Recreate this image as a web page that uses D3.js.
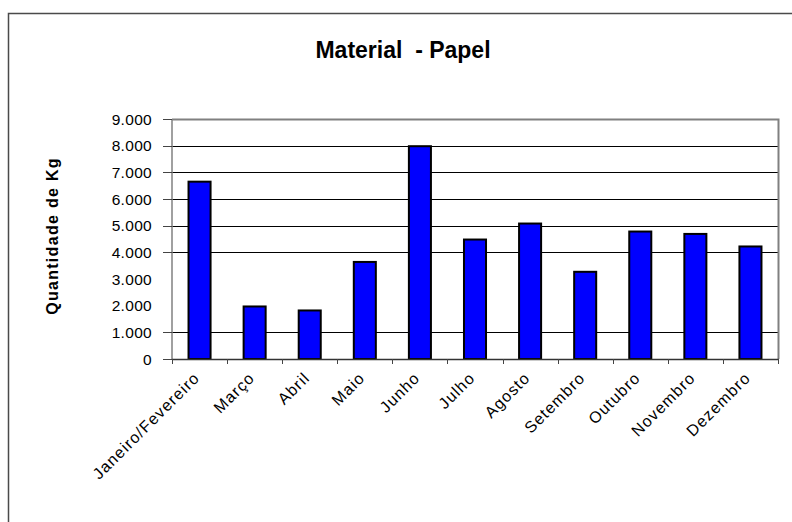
<!DOCTYPE html>
<html>
<head>
<meta charset="utf-8">
<script src="https://cdn.jsdelivr.net/npm/d3@7"></script>
<style>
  html, body { margin: 0; padding: 0; background: #fff; }
  svg { display: block; }
  text { font-family: "Liberation Sans", Arial, sans-serif; fill: #000; white-space: pre; }
</style>
</head>
<body>
<svg id="chart" width="792" height="522"></svg>
<script>
// Paper collected per month (kg)
const months = ["Janeiro/Fevereiro", "Março", "Abril", "Maio", "Junho", "Julho",
                "Agosto", "Setembro", "Outubro", "Novembro", "Dezembro"];
const paperKg = [6650, 1970, 1820, 3640, 7980, 4480, 5080, 3270, 4780, 4690, 4220];
const yTicks = [0, 1000, 2000, 3000, 4000, 5000, 6000, 7000, 8000, 9000];
const gridValues = [1000, 4000, 5000, 6000, 7000, 8000];
const tickMarkValues = [0, 1000, 4000, 5000, 6000, 7000, 8000, 9000];
const chartTitle = "Material  - Papel";
const yTitle = "Quantidade de Kg";

const svg = d3.select("#chart");
const W = 792, H = 522;
const plot = { left: 172, right: 778, top: 119, bottom: 359 };

// outer chart frame
svg.append("rect")
  .attr("x", 8.5).attr("y", 13.5)
  .attr("width", W + 20).attr("height", H + 20)
  .attr("fill", "#fff").attr("stroke", "#4a4a4a").attr("stroke-width", 1.5);

const x = d3.scaleBand()
  .domain(months)
  .range([plot.left, plot.right])
  .paddingInner(0.6)
  .paddingOuter(0.3);

const y = d3.scaleLinear()
  .domain([0, 9000])
  .range([plot.bottom, plot.top]);

const fmt = v => d3.format(",")(v).replace(/,/g, ".");

// gridlines
svg.append("g").selectAll("line")
  .data(gridValues)
  .join("line")
  .attr("x1", plot.left).attr("x2", plot.right)
  .attr("y1", d => Math.round(y(d)) + 0.5).attr("y2", d => Math.round(y(d)) + 0.5)
  .attr("stroke", "#000").attr("stroke-width", 1.2);

// plot area border: top and right
svg.append("path")
  .attr("d", `M${plot.left},${plot.top + 0.5} H${plot.right + 0.5} V${plot.bottom}`)
  .attr("fill", "none").attr("stroke", "#808080").attr("stroke-width", 2);

// bars
svg.append("g").selectAll("rect")
  .data(paperKg)
  .join("rect")
  .attr("x", (d, i) => x(months[i]))
  .attr("y", d => y(d))
  .attr("width", x.bandwidth())
  .attr("height", d => y(0) - y(d))
  .attr("fill", "#0000ff")
  .attr("stroke", "#000")
  .attr("stroke-width", 2);

// y axis line and tick marks
svg.append("line")
  .attr("x1", plot.left).attr("x2", plot.left)
  .attr("y1", plot.top).attr("y2", plot.bottom)
  .attr("stroke", "#808080").attr("stroke-width", 1.5);

svg.append("g").selectAll("line")
  .data(tickMarkValues)
  .join("line")
  .attr("x1", plot.left - 9).attr("x2", plot.left)
  .attr("y1", d => Math.round(y(d)) + 0.5).attr("y2", d => Math.round(y(d)) + 0.5)
  .attr("stroke", "#444").attr("stroke-width", 1);

svg.append("g").selectAll("text")
  .data(yTicks)
  .join("text")
  .attr("x", plot.left - 20)
  .attr("y", d => y(d))
  .attr("dy", "0.36em")
  .attr("text-anchor", "end")
  .attr("font-size", 15.5)
  .attr("letter-spacing", 0.3)
  .attr("fill", "#222")
  .text(d => fmt(d));

// x axis line and category ticks
svg.append("line")
  .attr("x1", plot.left).attr("x2", plot.right + 1)
  .attr("y1", plot.bottom + 0.5).attr("y2", plot.bottom + 0.5)
  .attr("stroke", "#333").attr("stroke-width", 1.5);

const boundaries = months.map(m => x(m) - x.step() * x.paddingOuter())
  .concat([plot.right]);
svg.append("g").selectAll("line")
  .data(boundaries)
  .join("line")
  .attr("x1", d => Math.round(d) + 0.5).attr("x2", d => Math.round(d) + 0.5)
  .attr("y1", plot.bottom).attr("y2", plot.bottom + 5)
  .attr("stroke", "#444").attr("stroke-width", 1);

svg.append("g").selectAll("text")
  .data(months)
  .join("text")
  .attr("transform", d => `translate(${x(d) + x.bandwidth() / 2 + 1},${plot.bottom + 20}) rotate(-45)`)
  .attr("text-anchor", "end")
  .attr("font-size", 16)
  .attr("letter-spacing", 1.1)
  .attr("fill", "#222")
  .text(d => d);

// title
svg.append("text")
  .attr("x", 403).attr("y", 58)
  .attr("text-anchor", "middle")
  .attr("font-size", 23)
  .attr("font-weight", "bold")
  .text(chartTitle);

// y axis title
svg.append("text")
  .attr("transform", `translate(58,236) rotate(-90)`)
  .attr("text-anchor", "middle")
  .attr("font-size", 16)
  .attr("font-weight", "bold")
  .attr("letter-spacing", 1.3)
  .text(yTitle);
</script>
</body>
</html>
